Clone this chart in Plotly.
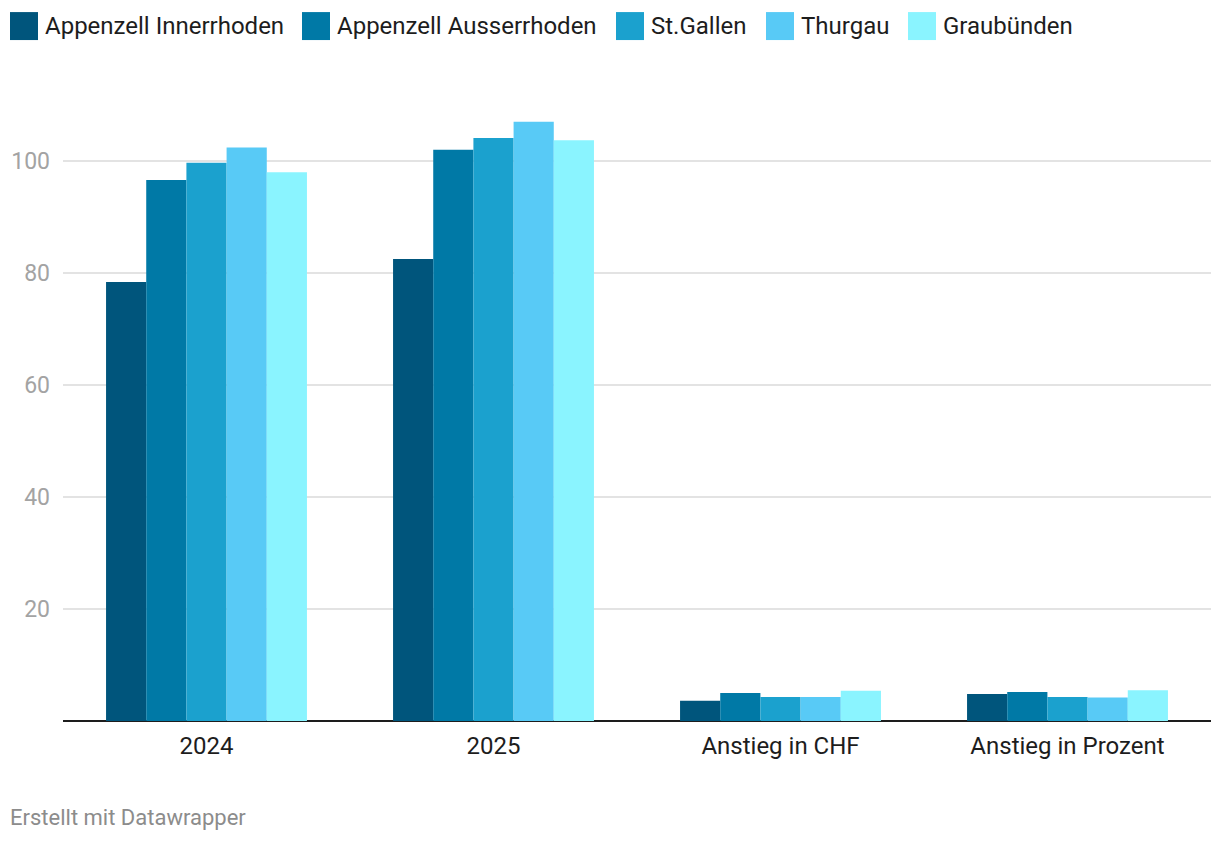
import plotly.graph_objects as go

categories = ["2024", "2025", "Anstieg in CHF", "Anstieg in Prozent"]
series_names = ["Appenzell Innerrhoden", "Appenzell Ausserrhoden", "St.Gallen", "Thurgau", "Graubünden"]
appenzell_innerrhoden = [78.4, 82.5, 3.6, 4.8]
appenzell_ausserrhoden = [96.6, 102.0, 5.0, 5.2]
st_gallen = [99.7, 104.1, 4.3, 4.3]
thurgau = [102.4, 107.0, 4.3, 4.2]
graubuenden = [98.0, 103.7, 5.4, 5.5]
y_tick_vals = [20, 40, 60, 80, 100]

series_values = [appenzell_innerrhoden, appenzell_ausserrhoden, st_gallen, thurgau, graubuenden]
colors = ["#00557c", "#0079a6", "#1ba1ce", "#58caf6", "#8af4ff"]

# page offset (body margin) = 8px
OFF = 8
W, H = 1212, 836
L, T = 63 - OFF, 105 - OFF
PW = 1148
PB = 721.5 - OFF  # plot bottom in figure px
PH = PB - T
R = W - L - PW
B = H - PB

fig = go.Figure()
for name, vals, col in zip(series_names, series_values, colors):
    fig.add_trace(go.Bar(x=categories, y=vals, name=name, marker=dict(color=col, line=dict(width=0)),
                         showlegend=False))

def px(x):
    return (x - OFF - L) / PW

def py(y):
    return (PB - (y - OFF)) / PH

# manual legend (squares + labels), page coordinates
legend_x = [10, 302, 616, 766, 908]
for i, (name, col) in enumerate(zip(series_names, colors)):
    x0 = legend_x[i]
    fig.add_shape(type="rect", xref="paper", yref="paper",
                  x0=px(x0), x1=px(x0 + 28), y0=py(40), y1=py(12),
                  fillcolor=col, line=dict(width=0))
    fig.add_annotation(text=name, xref="paper", yref="paper",
                       x=px(x0 + 33), y=py(26),
                       xanchor="left", yanchor="middle", showarrow=False,
                       font=dict(family="Roboto", size=24, color="#1d1d1d"))

fig.add_annotation(text="Erstellt mit Datawrapper", xref="paper", yref="paper",
                   x=px(8), y=py(818),
                   xanchor="left", yanchor="middle", showarrow=False,
                   font=dict(family="Roboto", size=22, color="#8c8c8c"))

fig.update_layout(
    width=W, height=H,
    barmode="group", bargap=0.3, bargroupgap=0,
    plot_bgcolor="white", paper_bgcolor="white",
    margin=dict(l=L, r=R, t=T, b=B, autoexpand=False),
    font=dict(family="Roboto"),
    xaxis=dict(showgrid=False, showline=False, ticks="", zeroline=False,
               tickfont=dict(size=24, color="#1d1d1d"), ticklabelstandoff=8),
    yaxis=dict(range=[0, 110], tickvals=y_tick_vals, showgrid=True, gridcolor="#e3e3e3",
               gridwidth=1.5, zeroline=True, zerolinecolor="#1d1d1d", zerolinewidth=2,
               tickfont=dict(size=23, color="#a3a3a3"), ticklabelstandoff=12),
)

fig.write_html("out.html")
